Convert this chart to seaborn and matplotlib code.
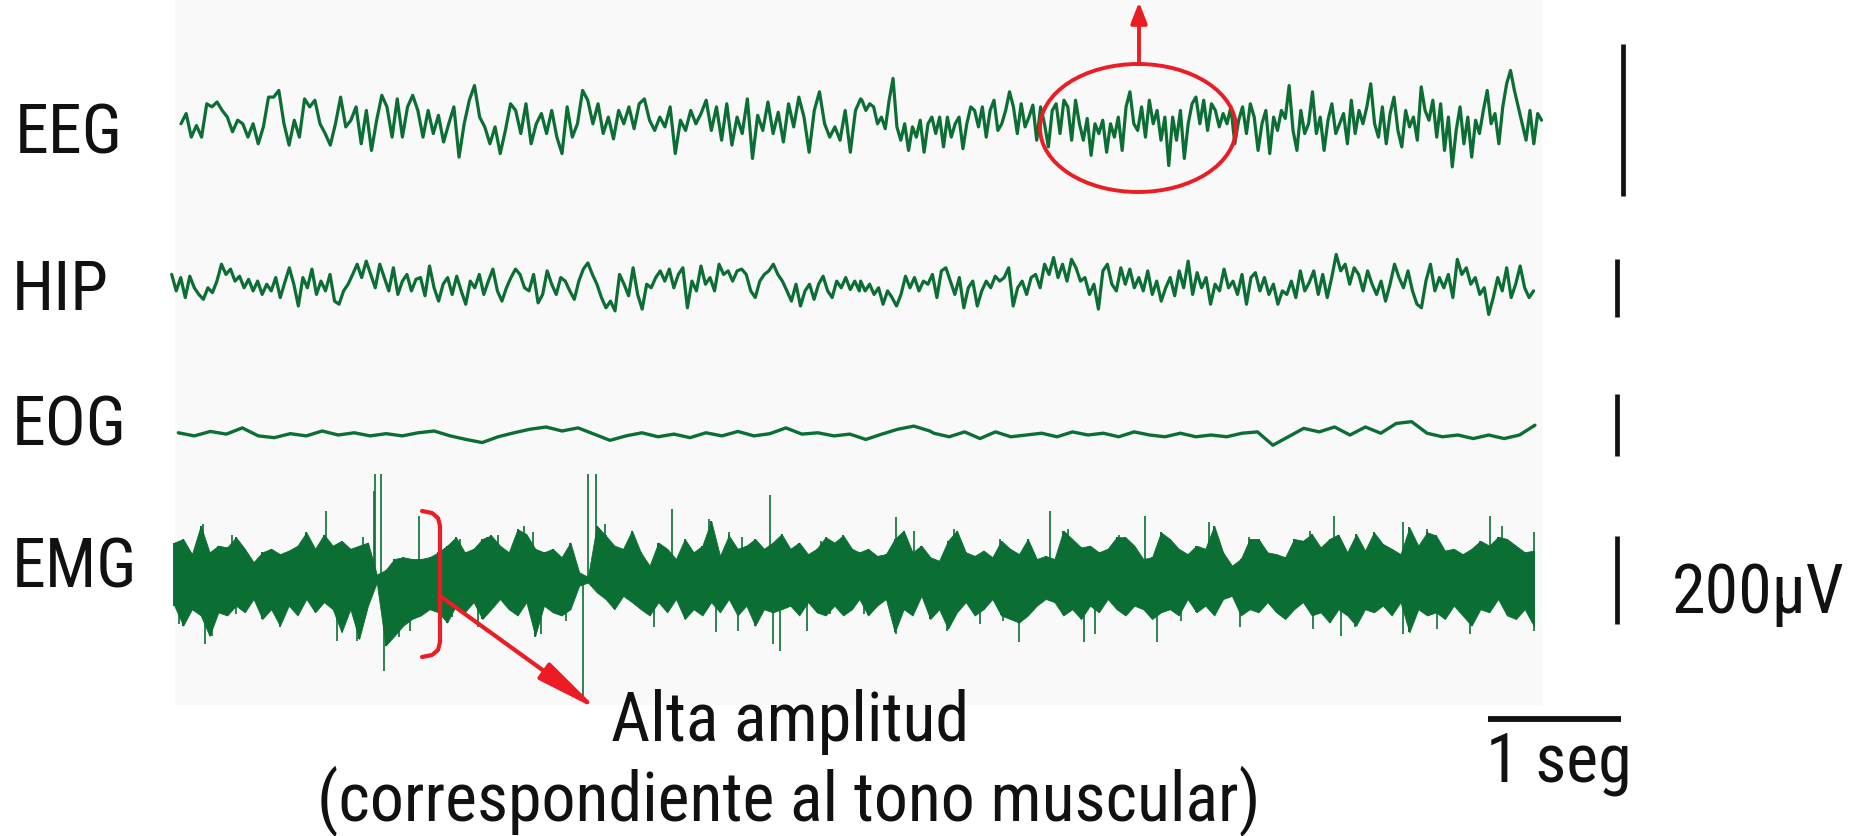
"""
Polysomnography trace figure (EEG / HIP / EOG / EMG) with calibration bars
and the red annotations. Writes out.png (1860 x 837).
"""
import matplotlib
matplotlib.use("Agg")
import matplotlib.pyplot as plt            # noqa: E402
import matplotlib.transforms as mtransforms  # noqa: E402
from matplotlib import font_manager        # noqa: E402
from matplotlib.patches import Ellipse, Rectangle  # noqa: E402
import numpy as np                          # noqa: E402
import seaborn as sns                       # noqa: E402

sns.set_theme(style="white")

# narrow face if there is one, else Roboto a bit smaller
_names = {f.name for f in font_manager.fontManager.ttflist}
FONT, FS = "Roboto", 43
for cand in ["Noto Sans Condensed", "Noto Sans SemiCondensed", "Liberation Sans Narrow",
             "Roboto Condensed", "DejaVu Sans Condensed"]:
    if cand in _names:
        FONT, FS = cand, 49
        break
plt.rcParams["font.family"] = [FONT, "DejaVu Sans"]

W, H = 1860, 837
PX_PER_S = 133.0          # 1 seg bar
UV_PER_PX = 2.25          # 200 uV bar
X0 = 181                  # pixel column of t = 0

GREEN = "#0b6e33"
RED = "#ec1c24"
INK = "#111111"

# --------------------------------------------------------------------------- #
# trace values (uV, up = positive)
eeg_a = [-4, 19, -34, -8, -34, 41, 34, 45, 26, 11, -22, 4, -4, -34, -4, -49, -11, 56, 56, 71,
         -4, -52, 4, -34, 52, 34, 49, -4, -26, -52, -4, 56, -11, 4, 34, -49, 26, -64, 4, 60,
         34, -34, 52, -34, 34, 60, 26, -34, 26, -26, 15, -45, -4, 34, -79, -4, 49, 82, 11, -11,
         -49, -11, -71, -19, 41, 26, -26, 41, -49, -4, 19, -26, 26, -34, -71, 34, -34, -4, 71, 49,
         -4, 41, -26, 11, -38, 26, -4, 34, -15, 41, 52, 4, -19, 11, -11, 34, -71, 4, -19, 26,
         -4, 19, 49, -19, 34, -41, 41, -52, 11, -26, 52, -82, 15, -19, 45, -26, 22, -45, 41, -11,
         56, 11, -68, 26, 68, -4, -34, -11, -41, 26, -68, 26, 52]
eeg_b = [49, 26, 41, 34, -4, 11, -15, 49, 98, -11, -41, -4, -64, -11, -34, 4, -68, -4, 11, -26,
         11, -56, 11, -34, -4, 11, -60, -4, 34, 26, -11, 34, -34, 26, 49, -19, -4, 26, 68, 34,
         -26, 41, -11, 11, 38, -41, 34, -4, -56, 26, 41, -26, 49, 34, -41, 49, -4, -41, 8, -75,
         -4, -26, 4, -68, -4, -34, 11, -64, 34, 68, -4, -19, 34, -34, 49, -4, 26, -41, 11, -98,
         11, -41, 26, -82, -4, 41, 56, -4, 49, -19, 41, 26, -11, 19, -4, 34, -49, 4, 34, -26,
         41, 11, -64, -4, 26, -71, 11, -19, 26, 8, 82, -19, -64, 26, -26, -4, 68, -26, 11, -64,
         4, 41, -26, -4, 19, -49, 49, -26, 26, -4, 34, 86, -4, -34, 34, -49, 19, 56, -19, -56,
         26, -11, 11, -41, 79, 26, 4, 49, -34, 41, -64, 11, -101, -19, 34, -49, 11, -79, 4, -26,
         26, 71, -4, 19, -49, 34, 86, 116, 71, 34, -4, -41, 26, -49, 19, 4]

hip_a = [26, -11, 19, -26, 22, -4, -19, -30, -4, -15, 11, 49, 26, 38, 11, 22, -4, 15, -11, 11,
         -19, 4, -11, 19, -26, 8, 41, 4, -45, 19, -4, 38, -19, 11, -11, 26, -34, -41, -11, 4,
         26, 49, 19, 56, 26, -4, 49, 19, -11, 41, -19, 11, 26, -11, 15, 19, -22, 45, -4, -34,
         4, 19, -19, 22, -11, -41, 11, -4, 26, -19, 11, 38, -11, -34, -4, 19, 38, 26, -4, -11,
         26, -38, -19, 34, 4, -19, 19, 11, -11, -30, 11, 38, 52, 26, 4, -26, -49, -34, -56, 26,
         4, -22, 41, -19, -52, 4, -4, 19, 34, 11, 38, -4, 26, 41, -49, 11, -11, 45, 4, 19,
         -11, 49, 26, 34, 11, 34, 38, 26, -11, -26, 11, 26, 34, 49, 26, 11, -11, -34, 4, -45,
         -11, 4, -30, 4, 22, -11, -26, 11, -4, 19, -8, 11, -11]
hip_b = [11, -11, 4, -19, -4, -41, -11, -26, -45, -19, 22, -4, 19, -11, 11, 4, 26, -26, 34, 41,
         11, -19, 19, -49, -4, 11, -45, -11, 11, -4, 22, 11, 19, 41, -45, -4, 11, -19, 19, 26,
         -4, 49, 26, 64, 19, 49, 11, 60, 41, 11, 19, -19, 4, -52, 34, 49, 4, -11, 41, 4,
         38, -4, 19, -11, 34, -19, 11, -34, -4, 19, -22, 34, -4, 56, -19, 30, -4, 19, -41, 4,
         -11, 38, -4, 11, -19, 26, -41, 19, 30, -11, 19, -19, 4, -41, -11, -19, 11, -26, 34, -11,
         8, 34, -19, 26, -26, 19, 71, 34, 49, 4, 41, 26, -11, 34, 4, -19, 11, -34, 4, 49,
         19, -4, 34, -11, -41, -49, 11, 49, -11, 19, -4, 26, -26, 60, 26, 41, 4, 19, -19, -4,
         -64, -26, 19, -11, 41, -26, 4, 45, -4, -26, -11]

eog_a = [5, -2, 8, 2, 16, -2, -6, 3, -2, 9, 0, 5, -2, 3, -2, 5, 9, -2, -10, -17,
         -4, 5, 13, 18, 9, 16, 2, -12, -2, 5, -4, 2, -6, 5, -2, 8, -2, 3, 16, 2,
         5, -2, 2, -10, 2, 13, 20, 9]
eog_b = [4, -4, 7, -8, 7, -4, 0, 4, -4, 7, 0, 4, -4, 7, 0, -4, 4, -4, 0, -4,
         4, 7, -23, -4, 15, 7, 18, 0, 18, 4, 26, 30, 4, -4, 0, -8, 0, -8, 0, 22]

# EMG: upper / lower edge of the dense band (every ~0.066 s) plus single spikes
emg_up_a = [82, 90, 56, 120, 60, 75, 71, 94, 68, 38, 60, 68, 56, 64, 75, 105, 68, 100, 75, 86,
            68, 75, 82, 10, 20, 45, 49, 45, 45, 49, 60, 75, 94, 60, 68, 90, 98, 75, 60, 112,
            101, 68, 60, 68, 49, 82, 15, 5, 120, 98, 75, 68, 109, 60, 30, 82, 68, 45, 90, 60,
            75, 131, 52, 98, 68, 75, 90, 68, 82, 101, 68, 82, 56, 68, 94, 82, 98, 68]
emg_lo_a = [-60, -105, -68, -82, -128, -75, -82, -60, -75, -45, -90, -68, -105, -60, -82, -45,
            -75, -52, -68, -120, -68, -135, -60, -8, -150, -128, -105, -90, -82, -68, -75, -98,
            -60, -75, -52, -90, -68, -45, -68, -82, -52, -128, -60, -75, -82, -68, -15, -8,
            -30, -45, -68, -38, -52, -68, -82, -52, -75, -45, -90, -68, -82, -52, -75, -45,
            -82, -60, -105, -68, -75, -68, -60, -82, -52, -75, -82, -60, -82, -68]
emg_up_b = [60, 68, 52, 56, 90, 109, 60, 75, 49, 41, 86, 109, 60, 52, 64, 49, 86, 68, 56, 90,
            45, 52, 45, 109, 90, 71, 75, 60, 68, 94, 94, 75, 45, 49, 105, 90, 68, 56, 75, 68,
            120, 60, 30, 45, 90, 90, 60, 56, 49, 90, 86, 101, 71, 90, 100, 60, 101, 64, 105, 79,
            68, 56, 116, 75, 105, 98, 64, 68, 56, 68, 86, 75, 95, 90, 75, 60, 64]
emg_lo_b = [-45, -82, -60, -45, -120, -68, -82, -38, -90, -68, -112, -75, -52, -82, -68, -45,
            -82, -90, -98, -82, -60, -45, -52, -82, -68, -90, -60, -75, -45, -68, -82, -60,
            -68, -90, -75, -68, -82, -45, -75, -60, -82, -45, -38, -82, -68, -75, -52, -75,
            -90, -68, -52, -82, -75, -98, -68, -82, -105, -68, -75, -60, -82, -52, -120, -68,
            -82, -75, -90, -60, -82, -105, -68, -75, -45, -82, -90, -68, -105]
spike_up_t = [0.165, 0.38, 0.447, 0.91, 1.09, 1.37, 1.45, 1.462, 1.50, 1.79, 2.10, 2.30, 2.38,
              2.58, 2.65, 3.06, 3.12, 3.19, 3.69, 3.97, 4.12, 4.22, 4.43, 4.52, 4.81, 4.98,
              5.376, 5.508, 5.813, 6.16, 6.535, 6.67, 7.05, 7.25, 7.73, 8.03, 8.49, 8.67,
              9.19, 9.37, 9.84, 9.93, 10.17]
spike_up_v = [124, 98, 79, 86, 154, 94, 199, 236, 236, 142, 90, 94, 98, 120, 105, 236, 236,
              124, 158, 135, 105, 94, 188, 90, 86, 98, 139, 109, 112, 90, 154, 112, 98, 142,
              128, 94, 109, 142, 128, 112, 142, 120, 105]
spike_dn_t = [-0.016, 0.182, 0.232, 0.413, 0.744, 1.175, 1.32, 1.525, 1.64, 1.72, 2.035, 2.233,
              2.66, 2.71, 2.895, 3.02, 3.56, 4.02, 4.19, 4.45, 4.50, 4.71, 4.88, 5.134, 5.376,
              5.763, 6.01, 6.177, 6.30, 6.79, 6.87, 7.34, 7.52, 7.96, 8.51, 8.72, 8.83, 9.19,
              9.44, 9.69, 10.17]
spike_dn_v = [-101, -146, -128, -79, -109, -139, -139, -206, -131, -116, -86, -109, -131, -124,
              -94, -266, -109, -120, -116, -146, -161, -116, -79, -79, -124, -116, -101, -94,
              -142, -142, -124, -142, -94, -109, -112, -128, -109, -124, -112, -124, -116]

channels = ["EEG", "HIP", "EOG", "EMG"]
cal_uv = [340, 130, 140, 200]        # vertical calibration bars
cal_label = "200µV"
time_bar_s = 1.0

# --------------------------------------------------------------------------- #
# layout: pixel rows of the baselines / bars / labels
base_px = {"EEG": 123, "HIP": 287, "EOG": 436, "EMG": 580}
bar_px = {"EEG": 121, "HIP": 289, "EOG": 426, "EMG": 581}
bar_col = {"EEG": 1623, "HIP": 1617, "EOG": 1617, "EMG": 1617}
label_px = {"EEG": (15, 154), "HIP": (12, 310), "EOG": (12, 446), "EMG": (12, 588)}


def base(ch):
    return -base_px[ch] * UV_PER_PX


def span(a, b, t0, t1, t2, t3):
    return np.concatenate([np.linspace(t0, t1, len(a)), np.linspace(t2, t3, len(b))])


fig = plt.figure(figsize=(W / 100, H / 100), dpi=100)
fig.patch.set_facecolor("white")
ax = fig.add_axes([0, 0, 1, 1])
ax.set_xlim(-X0 / PX_PER_S, (W - X0) / PX_PER_S)
ax.set_ylim(-H * UV_PER_PX, 0)
ax.axis("off")
px = mtransforms.Affine2D().scale(1 / W, -1 / H).translate(0, 1) + fig.transFigure

ax.add_patch(Rectangle((175, 0), 1367, 706, transform=px, color="#f9f9f9", lw=0, zorder=0))

traces = [
    ("EEG", span(eeg_a, eeg_b, 0.0, 5.11, 5.12, 10.23), eeg_a + eeg_b, 2.3),
    ("HIP", span(hip_a, hip_b, -0.07, 5.10, 5.11, 10.17), hip_a + hip_b, 2.3),
    ("EOG", span(eog_a, eog_b, -0.02, 5.63, 5.66, 10.18), eog_a + eog_b, 2.4),
]
for ch, t, v, lw in traces:
    sns.lineplot(x=t, y=np.asarray(v, float) + base(ch), ax=ax, color=GREEN, lw=lw,
                 estimator=None, sort=False, legend=False, zorder=2)

emg_t = span(emg_up_a, emg_up_b, -0.05, 5.045, 5.10, 10.17)
emg_up = np.asarray(emg_up_a + emg_up_b, float)
emg_lo = np.asarray(emg_lo_a + emg_lo_b, float)
b = base("EMG")
ax.fill_between(emg_t, b + emg_lo, b + emg_up, color=GREEN, lw=0.6, ec=GREEN, zorder=2)
ax.vlines(emg_t, b + emg_lo, b + emg_up, color=GREEN, lw=1.4, zorder=2)
ax.vlines(spike_up_t, b, b + np.asarray(spike_up_v), color=GREEN, lw=1.2, zorder=2)
ax.vlines(spike_dn_t, b + np.asarray(spike_dn_v), b, color=GREEN, lw=1.2, zorder=2)

# calibration bars
for ch, cal in zip(channels, cal_uv):
    xb = (bar_col[ch] - X0) / PX_PER_S
    yc = -bar_px[ch] * UV_PER_PX
    ax.vlines(xb, yc - cal / 2, yc + cal / 2, color=INK, lw=3.4, zorder=3)
t_bar0 = (1488 - X0) / PX_PER_S
ax.hlines(-720 * UV_PER_PX, t_bar0, t_bar0 + time_bar_s, color=INK, lw=4.2, zorder=3)

# labels
for ch in channels:
    x, y = label_px[ch]
    ax.text(x, y, ch, transform=px, fontsize=FS, color=INK, ha="left", va="baseline")
ax.text(1672, 613, cal_label, transform=px, fontsize=FS, color=INK, ha="left", va="baseline")
ax.text(1486, 782, "1 seg", transform=px, fontsize=FS, color=INK, ha="left", va="baseline")
ax.text(790, 741, "Alta amplitud", transform=px, fontsize=FS, color=INK, ha="center",
        va="baseline")
ax.text(789, 820, "(correspondiente al tono muscular)", transform=px, fontsize=FS,
        color=INK, ha="center", va="baseline")

# red annotations
ax.add_patch(Ellipse((1138, 129), 196, 128, transform=px, fill=False, ec=RED, lw=2.8, zorder=4))
ax.annotate("", xy=(1139, 3), xytext=(1139, 65), xycoords=px, textcoords=px,
            arrowprops=dict(arrowstyle="-|>,head_length=0.9,head_width=0.35", color=RED,
                            lw=2.8, mutation_scale=14, shrinkA=0, shrinkB=0), zorder=4)
ax.plot([422, 432, 438, 440, 440, 438, 432, 422], [512, 514, 519, 527, 643, 651, 656, 658],
        transform=px, color=RED, lw=3, solid_capstyle="round", zorder=4)
ax.annotate("", xy=(598, 711), xytext=(440, 597), xycoords=px, textcoords=px,
            arrowprops=dict(arrowstyle="-|>,head_length=1.9,head_width=0.3", color=RED,
                            lw=3, mutation_scale=20, shrinkA=0, shrinkB=0), zorder=4)

fig.savefig("out.png", dpi=100, facecolor="white")
